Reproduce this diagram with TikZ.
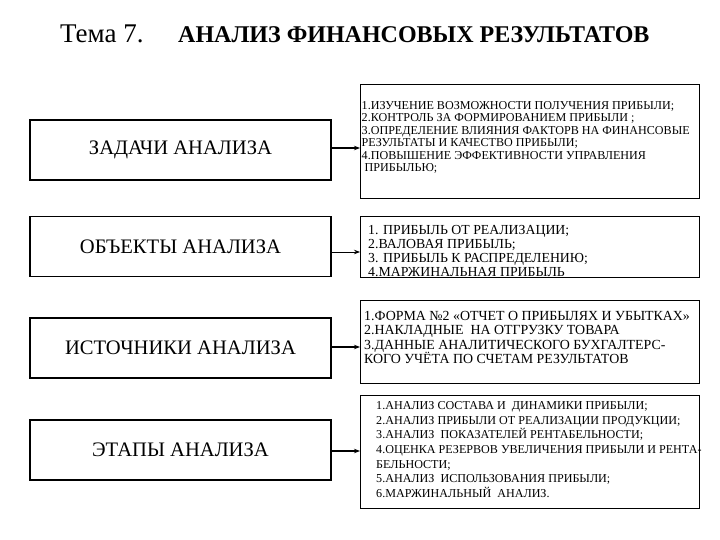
\documentclass[tikz,border=0pt]{standalone}
\usepackage{fontspec}
\setmainfont{Liberation Serif}
\usetikzlibrary{positioning,arrows.meta}

\begin{document}
\begin{tikzpicture}[x=1pt, y=-1pt,
    topic/.style={draw, line width=1.2pt, minimum width=301pt, minimum height=60pt, inner sep=0pt, font=\fontsize{20.6}{23}\selectfont},
    frame/.style={draw, line width=1.2pt, minimum width=339pt, inner sep=0pt, anchor=north west},
    items/.style={align=left, inner sep=0pt},
    >={Stealth[length=6pt, width=4.5pt]}]

    \useasboundingbox (0,0) rectangle (720,540);

    % heading
    \node[anchor=base west, inner sep=0pt, font=\fontsize{27}{30}\selectfont] (theme) at (60,43) {Тема 7.};
    \node[anchor=base west, inner sep=0pt, font=\fontsize{24}{26}\selectfont\bfseries] (heading) at (178,43) {АНАЛИЗ ФИНАНСОВЫХ РЕЗУЛЬТАТОВ};

    % left column
    \node[topic] (tasks) at (180.5,150) {ЗАДАЧИ АНАЛИЗА};
    \node[topic] (objects) at (180.5,246.5) {ОБЪЕКТЫ АНАЛИЗА};
    \node[topic] (sources) at (180.5,348) {ИСТОЧНИКИ АНАЛИЗА};
    \node[topic] (stages) at (180.5,450) {ЭТАПЫ АНАЛИЗА};

    % right column frames
    \node[frame, minimum height=114pt] (ftasks) at (360,84) {};
    \node[frame, minimum height=61pt] (fobjects) at (360,216) {};
    \node[frame, minimum height=83pt] (fsources) at (360,300) {};
    \node[frame, minimum height=113pt] (fstages) at (360,395) {};

    % lists inside the frames
    \node[items, font=\fontsize{12.1}{12.5}\selectfont, right=1.5pt of ftasks.west, yshift=4pt] (taskslist) {%
        1.ИЗУЧЕНИЕ ВОЗМОЖНОСТИ ПОЛУЧЕНИЯ ПРИБЫЛИ;\\
        2.КОНТРОЛЬ ЗА ФОРМИРОВАНИЕМ ПРИБЫЛИ ;\\
        3.ОПРЕДЕЛЕНИЕ ВЛИЯНИЯ ФАКТОРВ НА ФИНАНСОВЫЕ\\
        РЕЗУЛЬТАТЫ И КАЧЕСТВО ПРИБЫЛИ;\\
        4.ПОВЫШЕНИЕ ЭФФЕКТИВНОСТИ УПРАВЛЕНИЯ\\
        \hspace*{3pt}ПРИБЫЛЬЮ;};
    \node[items, font=\fontsize{13.8}{14}\selectfont, right=8pt of fobjects.west, yshift=-3.5pt] (objectslist) {%
        1. ПРИБЫЛЬ ОТ РЕАЛИЗАЦИИ;\\
        2.ВАЛОВАЯ ПРИБЫЛЬ;\\
        3. ПРИБЫЛЬ К РАСПРЕДЕЛЕНИЮ;\\
        4.МАРЖИНАЛЬНАЯ ПРИБЫЛЬ};
    \node[items, font=\fontsize{13.9}{14.5}\selectfont, right=4pt of fsources.west, yshift=4.5pt] (sourceslist) {%
        1.ФОРМА №2 «ОТЧЕТ О ПРИБЫЛЯХ И УБЫТКАХ»\\
        2.НАКЛАДНЫЕ \ НА ОТГРУЗКУ ТОВАРА\\
        3.ДАННЫЕ АНАЛИТИЧЕСКОГО БУХГАЛТЕРС-\\
        КОГО УЧЁТА ПО СЧЕТАМ РЕЗУЛЬТАТОВ};
    \node[items, font=\fontsize{12.1}{14.6}\selectfont, right=16pt of fstages.west, yshift=2.5pt] (stageslist) {%
        1.АНАЛИЗ СОСТАВА И \ ДИНАМИКИ ПРИБЫЛИ;\\
        2.АНАЛИЗ ПРИБЫЛИ ОТ РЕАЛИЗАЦИИ ПРОДУКЦИИ;\\
        3.АНАЛИЗ \ ПОКАЗАТЕЛЕЙ РЕНТАБЕЛЬНОСТИ;\\
        4.ОЦЕНКА РЕЗЕРВОВ УВЕЛИЧЕНИЯ ПРИБЫЛИ И РЕНТА-\\
        БЕЛЬНОСТИ;\\
        5.АНАЛИЗ \ ИСПОЛЬЗОВАНИЯ ПРИБЫЛИ;\\
        6.МАРЖИНАЛЬНЫЙ \ АНАЛИЗ.};

    % arrows
    \foreach \src/\w/\dy in {tasks/1.5pt/2pt, objects/0.8pt/-5.5pt, sources/1.5pt/1pt, stages/1.5pt/-1pt}
        \draw[->, line width=\w] ([yshift=\dy]\src.east) -- ([yshift=\dy]\src.east -| f\src.west);
\end{tikzpicture}
\end{document}
